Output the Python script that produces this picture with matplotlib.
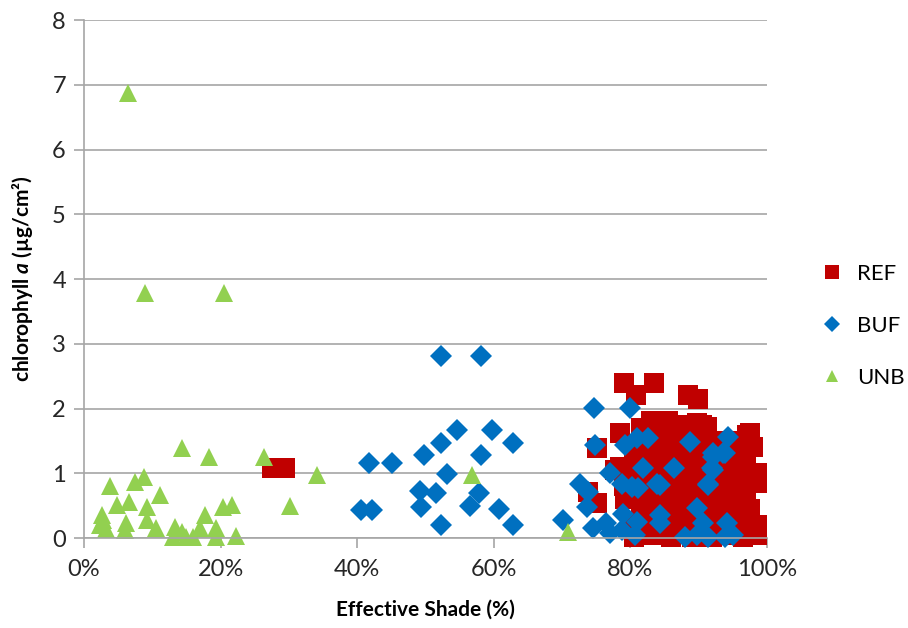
import matplotlib.pyplot as plt
from matplotlib.ticker import PercentFormatter

plt.rcParams['font.family'] = ['Lato', 'DejaVu Sans']
plt.rcParams['mathtext.fontset'] = 'custom'
plt.rcParams['mathtext.it'] = 'Lato:italic:bold'

# effective shade (%) and chlorophyll a (ug/cm2)
ref_shade = [27.5, 29.5, 79.1, 83.5, 80.8, 88.4, 89.9, 83.3, 87.0, 89.8, 91.2, 85.5,
             78.5, 97.1, 98.0, 75.1, 77.7, 73.8, 75.1, 78.5, 79.0, 79.2,
             80.5, 80.5, 80.5, 80.5, 80.5,
             81.5, 81.5, 81.5, 81.5, 81.5,
             82.2, 82.2, 82.2, 82.2,
             83.0, 83.0, 83.0, 83.0, 83.0, 83.0,
             84.5, 84.5, 84.5, 84.5, 84.5,
             85.2, 85.2, 85.2, 85.2,
             86.0, 86.0, 86.0, 86.0, 86.0,
             87.5, 87.5, 87.5, 87.5, 87.5, 87.5,
             88.2, 88.2, 88.2, 88.2,
             89.0, 89.0, 89.0, 89.0, 89.0, 89.0,
             90.5, 90.5, 90.5, 90.5, 90.5, 90.5,
             91.2, 91.2, 91.2, 91.2,
             92.0, 92.0, 92.0, 92.0, 92.0,
             93.5, 93.5, 93.5, 93.5, 93.5,
             94.2, 94.2, 94.2, 94.2,
             95.0, 95.0, 95.0, 95.0, 95.0,
             96.5, 96.5, 96.5, 96.5, 96.5, 96.5,
             97.0, 97.0, 97.0,
             97.5, 97.5, 97.5, 97.5, 97.5,
             98.5, 98.5, 98.5, 98.5,
             81.0, 83.8, 86.7, 89.7, 92.7, 95.7, 95.7, 90.0, 86.5, 84.0]
ref_chl = [1.08, 1.08, 2.40, 2.40, 2.21, 2.21, 2.15, 1.79, 1.75, 1.78, 1.72, 1.80,
           1.62, 1.59, 1.41, 1.39, 1.05, 0.71, 0.54, 1.10, 0.80, 0.60,
           1.35, 1.10, 0.85, 0.20, 0.02,
           1.70, 1.50, 0.60, 0.40, 0.10,
           1.30, 0.95, 0.50, 0.22,
           1.80, 1.25, 1.00, 0.70, 0.30, 0.05,
           1.60, 1.40, 0.90, 0.55, 0.15,
           1.50, 1.05, 0.70, 0.30,
           1.70, 1.20, 0.80, 0.45, 0.02,
           1.75, 1.50, 1.00, 0.65, 0.25, 0.10,
           1.35, 1.10, 0.75, 0.40,
           1.65, 1.30, 0.90, 0.55, 0.35, 0.02,
           1.75, 1.55, 1.15, 0.75, 0.40, 0.10,
           1.25, 0.90, 0.55, 0.20,
           1.40, 1.00, 0.60, 0.30, 0.02,
           1.50, 1.15, 0.85, 0.50, 0.15,
           1.30, 0.95, 0.60, 0.30,
           1.35, 1.00, 0.70, 0.40, 0.05,
           1.50, 1.20, 0.85, 0.55, 0.25, 0.02,
           1.10, 0.70, 0.35,
           1.62, 1.40, 1.00, 0.45, 0.10,
           1.00, 0.85, 0.20, 0.05,
           0.75, 0.40, 0.30, 0.20, 0.75, 1.15, 0.20, 1.45, 1.45, 1.75]

buf_shade = [52.3, 58.2, 54.6, 59.8, 52.3, 62.8, 49.8, 58.2, 41.8, 45.1, 53.2, 49.2,
             51.5, 57.9, 49.4, 56.5, 60.8, 40.6, 42.1, 52.3, 62.8, 70.1,
             74.6, 79.9, 74.8, 79.2, 80.9, 82.6, 88.8, 94.3, 92.1, 93.9, 81.8, 86.4,
             92.0, 77.0, 72.6, 78.7, 80.2, 81.1, 83.9, 91.4, 73.8, 73.6, 89.7, 74.5,
             76.5, 77.0, 78.9, 78.7, 80.9, 80.7, 84.3, 84.3, 88.0, 89.7, 90.6, 91.4,
             94.1, 95.0, 93.8, 92.1, 91.4, 84.3, 92.1, 93.6]
buf_chl = [2.81, 2.81, 1.67, 1.67, 1.47, 1.47, 1.28, 1.28, 1.16, 1.16, 0.99, 0.72,
           0.70, 0.70, 0.48, 0.49, 0.45, 0.43, 0.43, 0.20, 0.20, 0.28,
           2.01, 2.01, 1.44, 1.44, 1.55, 1.55, 1.49, 1.56, 1.31, 1.31, 1.08, 1.08,
           1.08, 1.00, 0.83, 0.83, 0.79, 0.77, 0.83, 0.83, 0.71, 0.48, 0.46, 0.15,
           0.23, 0.08, 0.37, 0.12, 0.25, 0.05, 0.36, 0.23, 0.02, 0.05, 0.23, 0.02,
           0.23, 0.05, 0.02, 1.05, 0.82, 0.82, 1.25, 1.31]

unb_shade = [6.4, 8.9, 20.5, 14.4, 18.3, 26.4, 3.8, 7.5, 8.8, 11.2, 4.8, 6.6, 9.2,
             2.7, 20.3, 21.6, 30.2, 17.7, 2.3, 6.2, 6.0, 9.2, 10.6, 13.3, 14.3,
             16.0, 17.0, 19.4, 19.4, 22.3, 13.1, 14.9, 34.1, 56.8, 70.8, 2.8, 3.2]
unb_chl = [6.88, 3.79, 3.79, 1.39, 1.25, 1.25, 0.80, 0.87, 0.94, 0.66, 0.51, 0.56, 0.48,
           0.36, 0.48, 0.51, 0.49, 0.36, 0.20, 0.23, 0.12, 0.28, 0.15, 0.17, 0.09,
           0.02, 0.15, 0.15, 0.02, 0.03, 0.02, 0.02, 0.98, 0.98, 0.10, 0.28, 0.14]

fig = plt.figure(figsize=(9.08, 6.28), dpi=100)
ax = fig.add_axes([0.0925, 0.1433, 0.7522, 0.8247])

ax.plot(ref_shade, ref_chl, 's', color='#C00000', ms=14, mew=0, clip_on=False, label='REF')
ax.plot(buf_shade, buf_chl, 'D', color='#0070C0', ms=11, mew=0, clip_on=False, label='BUF')
ax.plot(unb_shade, unb_chl, '^', color='#92D050', ms=13, mew=0, clip_on=False, label='UNB')

ax.set_xlim(0, 100)
ax.set_ylim(0, 8)
ax.set_xticks([0, 20, 40, 60, 80, 100])
ax.set_yticks(range(9))
ax.xaxis.set_major_formatter(PercentFormatter(100, decimals=0))

ax.grid(axis='y', color='#a6a6a6', lw=1.2)
ax.set_axisbelow(True)
for s in ['top', 'right']:
    ax.spines[s].set_visible(False)
for s in ['left', 'bottom']:
    ax.spines[s].set_color('#a6a6a6')
    ax.spines[s].set_linewidth(1.2)
ax.tick_params(colors='#a6a6a6', labelcolor='#262626', labelsize=17, length=7, width=1.2)
ax.tick_params(axis='x', pad=8)
ax.tick_params(axis='y', pad=6)

ax.set_xlabel('Effective Shade (%)', fontsize=15, fontweight='bold', labelpad=14)
ax.set_ylabel('chlorophyll $a$ (µg/cm²)', fontsize=15, fontweight='bold', labelpad=12)

fig.legend(loc='upper left', bbox_to_anchor=(0.88, 0.612), frameon=False, fontsize=16,
           labelspacing=1.45, handletextpad=0.5, markerscale=0.7, handlelength=1.2)

fig.savefig('out.png', dpi=100)
